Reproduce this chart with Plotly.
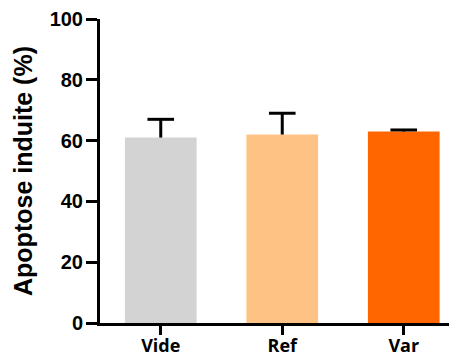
import plotly.graph_objects as go

categories = ["Vide", "Ref", "Var"]
values = [61, 62, 63]
errors = [6, 7, 0.5]
colors = ["#D3D3D3", "#FFC285", "#FF6600"]
y_ticks = [0, 20, 40, 60, 80, 100]

tops = [v + e for v, e in zip(values, errors)]

fig = go.Figure()
fig.add_trace(go.Bar(
    x=categories, y=values, width=0.59,
    marker=dict(color=colors, line=dict(width=0)),
    error_y=dict(type="data", array=errors, arrayminus=[0, 0, 0], symmetric=False,
                 color="black", thickness=3, width=0),
))
fig.add_trace(go.Scatter(
    x=categories, y=tops, mode="markers",
    marker=dict(symbol="line-ew", size=19, line=dict(width=3, color="black"), color="black"),
    hoverinfo="skip",
))

fig.update_layout(
    width=449, height=350,
    margin=dict(l=92, r=1, t=11, b=35, autoexpand=False),
    paper_bgcolor="white", plot_bgcolor="white",
    showlegend=False,
    font=dict(family="Liberation Sans", color="black", weight=700),
)
fig.update_xaxes(
    range=[-0.5, 2.43], showline=True, linecolor="black", linewidth=3,
    ticks="outside", ticklen=9, tickwidth=3, tickcolor="black",
    tickfont=dict(family="Open Sans", size=18, color="black", weight=700),
    ticklabelstandoff=-5,
    showgrid=False, zeroline=False, automargin=False,
)
fig.update_yaxes(
    range=[0, 100], tickvals=y_ticks, showline=True, linecolor="black", linewidth=3,
    ticks="outside", ticklen=11, tickwidth=3, tickcolor="black",
    tickfont=dict(family="Liberation Sans", size=20, color="black", weight=700),
    ticklabelstandoff=-1,
    title=dict(text="Apoptose induite (%)", font=dict(family="Liberation Sans", size=25, weight=700), standoff=10),
    showgrid=False, zeroline=False, automargin=False,
)

fig.write_html("out.html")
